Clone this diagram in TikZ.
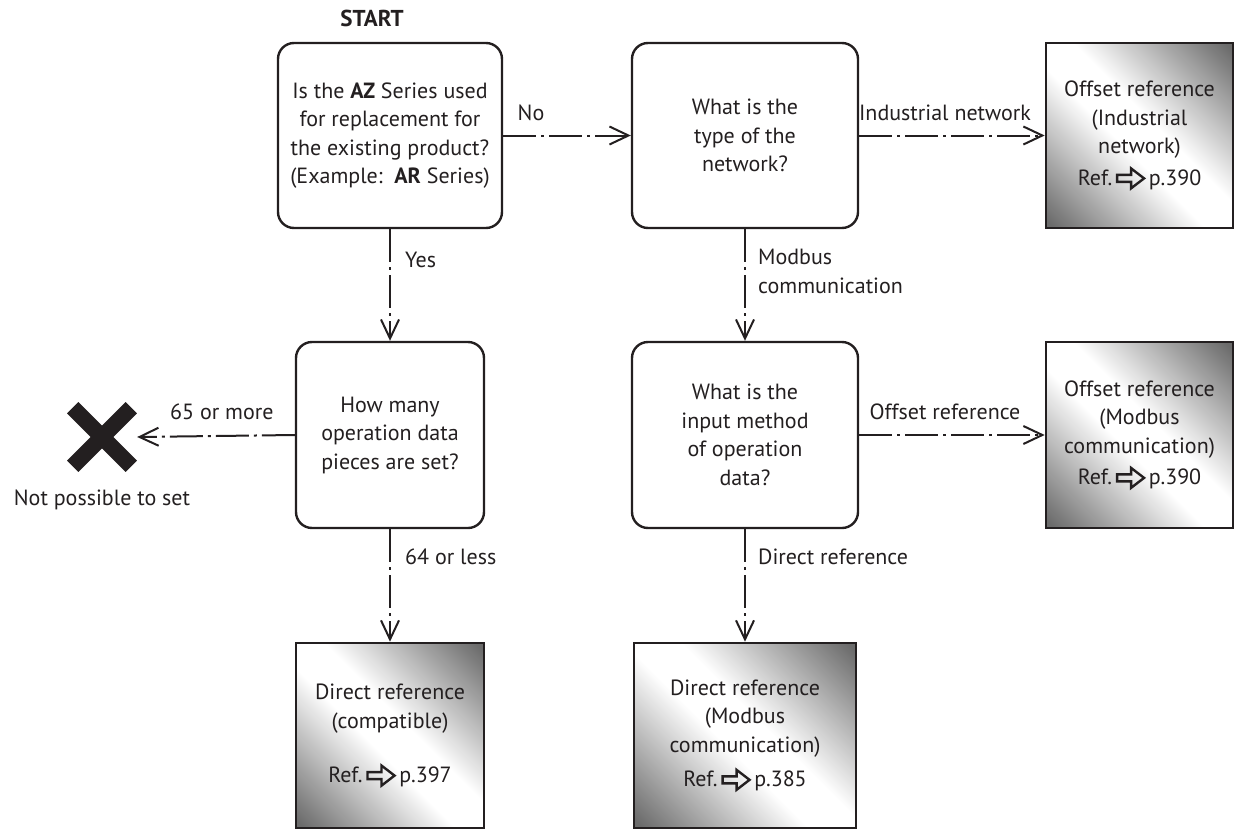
\documentclass[tikz,border=0pt]{standalone}
\usepackage{fontspec}
\setmainfont{PT Sans}
\usetikzlibrary{arrows.meta}
\definecolor{ink}{HTML}{231F20}
\pgfdeclarehorizontalshading{refshade}{100bp}{color(0bp)=(black!62); color(16bp)=(black!58); color(45bp)=(white); color(55bp)=(white); color(84bp)=(black!58); color(100bp)=(black!62)}
\newcommand{\refarrow}{\,\tikz[baseline=-7pt, x=1pt, y=1pt]\draw[draw=ink, line width=2.4pt, line join=miter] (0,3.5) -- (14,3.5) -- (14,10) -- (27,0) -- (14,-10) -- (14,-3.5) -- (0,-3.5) -- cycle;\,}
\begin{document}
\begin{tikzpicture}[x=1pt,y=-1pt, font=\fontsize{22}{28.5}\selectfont, text=ink,
  qbox/.style={draw=ink, line width=2.4pt, rounded corners=16pt, align=center, inner sep=0pt},
  rbox/.style={draw=ink, line width=2.6pt, shade, shading=refshade, shading angle=45, align=center, inner sep=0pt},
  flow/.style={draw=ink, line width=2pt, dash pattern=on 33pt off 5pt on 3pt off 5pt, -{Straight Barb[length=19pt,width=18pt,line width=2pt]}},
  lbl/.style={inner sep=0pt}
]
\useasboundingbox (0,0) rectangle (1235,830);

\node[font=\bfseries\fontsize{23}{26}\selectfont] (start) at (372,18) {START};

\node[qbox, minimum width=224pt, minimum height=185pt] (A) at (390,135.5)
  {Is the \textbf{AZ} Series used\\for replacement for\\the existing product?\\(Example:\ \ \textbf{AR} Series)};
\node[qbox, minimum width=226pt, minimum height=185pt] (B) at (745,135.5)
  {What is the\\type of the\\network?};
\node[rbox, minimum width=187pt, minimum height=185pt] (C) at (1139.5,135.5)
  {Offset reference\\(Industrial\\network)\\[3pt]Ref.\refarrow p.390};

\node[qbox, minimum width=188pt, minimum height=186pt] (D) at (390,435)
  {How many\\operation data\\pieces are set?};
\node[qbox, minimum width=226pt, minimum height=186pt] (E) at (745,435)
  {What is the\\input method\\of operation\\data?};
\node[rbox, minimum width=187pt, minimum height=186pt] (F) at (1139.5,435)
  {Offset reference\\(Modbus\\communication)\\[3pt]Ref.\refarrow p.390};

\node[rbox, minimum width=188pt, minimum height=185pt] (G) at (390,735.5)
  {Direct reference\\(compatible)\\[26pt]Ref.\refarrow p.397};
\node[rbox, minimum width=222pt, minimum height=185pt] (H) at (745,735.5)
  {Direct reference\\(Modbus\\communication)\\[6pt]Ref.\refarrow p.385};

\node[minimum size=70pt, inner sep=0pt] (X) at (102,437) {};
\draw[ink, line width=16pt] (X.center) ++(-29.3,-29.3) -- ++(58.6,58.6);
\draw[ink, line width=16pt] (X.center) ++(29.3,-29.3) -- ++(-58.6,58.6);
\node[lbl] (lNot) at (102,500) {Not possible to set};

\draw[flow] (A.east) -- (B.west);
\draw[flow] (B.east) -- (C.west);
\draw[flow] (A.south) -- (D.north);
\draw[flow] (B.south) -- (E.north);
\draw[flow] (E.east) -- (F.west);
\draw[flow] (D.west) -- (X.east);
\draw[flow] (D.south) -- (G.north);
\draw[flow] (E.south) -- (H.north);

\node[lbl] (lNo) at (531,113) {No};
\node[lbl] (lInd) at (945,113) {Industrial network};
\node[lbl, anchor=west] (lYes) at (405,260) {Yes};
\node[lbl, anchor=north west, align=left] (lMod) at (758,249) {Modbus\\communication};
\node[lbl, anchor=west] (l65) at (170,412) {65 or more};
\node[lbl] (lOff) at (945,412) {Offset reference};
\node[lbl, anchor=west] (l64) at (405,557) {64 or less};
\node[lbl, anchor=west] (lDir) at (758,557) {Direct reference};
\end{tikzpicture}
\end{document}
